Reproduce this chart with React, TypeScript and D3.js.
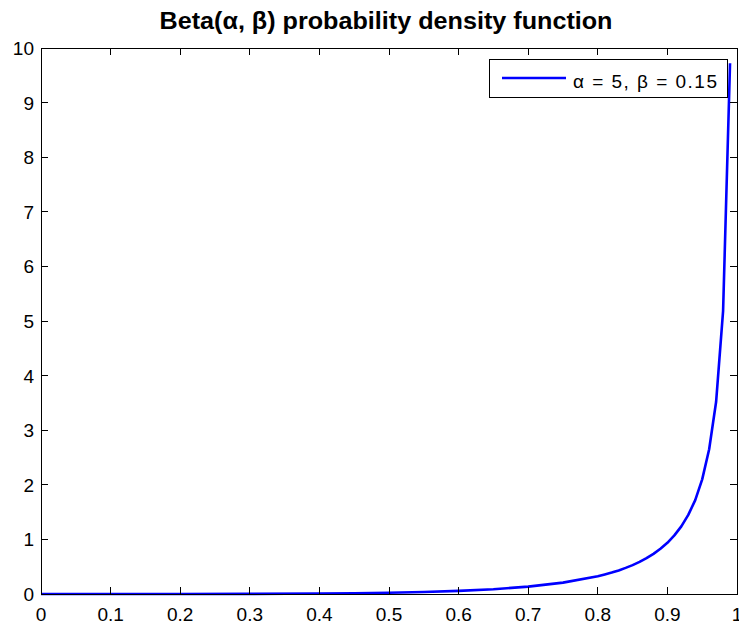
import React from "react";
import * as d3 from "d3";

// Beta(5, 0.15) density sampled along x
const xValues = [
  0, 0.1, 0.2, 0.3, 0.4, 0.45, 0.5, 0.55, 0.6, 0.65, 0.7, 0.75, 0.8,
  0.81, 0.82, 0.83, 0.84, 0.85, 0.86, 0.87, 0.88, 0.89, 0.9,
  0.91, 0.92, 0.93, 0.94, 0.95, 0.96, 0.97, 0.98, 0.99,
];
const densityValues = [
  0, 0.00002, 0.0004, 0.0022, 0.008, 0.014, 0.023, 0.036, 0.057, 0.088, 0.135, 0.208, 0.325,
  0.357, 0.392, 0.432, 0.478, 0.529, 0.588, 0.656, 0.735, 0.828, 0.938,
  1.073, 1.239, 1.449, 1.72, 2.1, 2.65, 3.52, 5.18, 9.72,
];
const xTicks = [0, 0.1, 0.2, 0.3, 0.4, 0.5, 0.6, 0.7, 0.8, 0.9, 1];
const yTicks = [0, 1, 2, 3, 4, 5, 6, 7, 8, 9, 10];
const titleText = "Beta(\u03b1, \u03b2) probability density function";
const legendLabel = "\u03b1 = 5, \u03b2 = 0.15";

const W = 739;
const H = 626;
const left = 41;
const right = 737;
const top = 48;
const bottom = 594;
const tickLen = 7;
const font = "Arial, 'Liberation Sans', Helvetica, sans-serif";

export default function App() {
  const x = d3.scaleLinear().domain([0, 1]).range([left, right]);
  const y = d3.scaleLinear().domain([0, 10]).range([bottom, top]);
  const points = xValues.map((v, i) => [v, densityValues[i]] as [number, number]);
  const line = d3
    .line<[number, number]>()
    .x((d) => x(d[0]))
    .y((d) => y(d[1]));

  return (
    <svg
      width={W}
      height={H}
      style={{ position: "absolute", left: 0, top: 0, background: "#fff" }}
    >
      <rect x={0} y={0} width={W} height={H} fill="#fff" />
      <text
        x={(left + right) / 2 - 3}
        y={29}
        textAnchor="middle"
        fontFamily={font}
        fontWeight="bold"
        fontSize={23}
        textLength={453}
        lengthAdjust="spacingAndGlyphs"
        fill="#000"
      >
        {titleText}
      </text>

      <path
        d={line(points) || ""}
        fill="none"
        stroke="#0000ff"
        strokeWidth={2.6}
        strokeLinejoin="round"
      />

      <g shapeRendering="crispEdges" stroke="#000" strokeWidth={1}>
        <rect x={left} y={top} width={right - left} height={bottom - top} fill="none" />
        {xTicks.map((t) => (
          <g key={"xt" + t}>
            <line x1={x(t)} x2={x(t)} y1={bottom} y2={bottom - tickLen} />
            <line x1={x(t)} x2={x(t)} y1={top} y2={top + tickLen} />
          </g>
        ))}
        {yTicks.map((t) => (
          <g key={"yt" + t}>
            <line x1={left} x2={left + tickLen} y1={y(t)} y2={y(t)} />
            <line x1={right} x2={right - tickLen} y1={y(t)} y2={y(t)} />
          </g>
        ))}
      </g>

      {xTicks.map((t) => (
        <text
          key={"xl" + t}
          x={x(t)}
          y={621}
          textAnchor="middle"
          fontFamily={font}
          fontSize={19}
          fill="#000"
        >
          {d3.format("~g")(t)}
        </text>
      ))}
      {yTicks.map((t) => (
        <text
          key={"yl" + t}
          x={34}
          y={y(t) + 7}
          textAnchor="end"
          fontFamily={font}
          fontSize={19}
          fill="#000"
        >
          {t}
        </text>
      ))}

      <g>
        <rect
          x={489.5}
          y={59.5}
          width={238}
          height={38}
          fill="#fff"
          stroke="#000"
          strokeWidth={1}
          shapeRendering="crispEdges"
        />
        <line x1={502} x2={566} y1={78} y2={78} stroke="#0000ff" strokeWidth={2.7} />
        <text
          x={573}
          y={87.5}
          fontFamily={font}
          fontSize={19}
          textLength={144}
          lengthAdjust="spacing"
          fill="#000"
        >
          {legendLabel}
        </text>
      </g>
    </svg>
  );
}
